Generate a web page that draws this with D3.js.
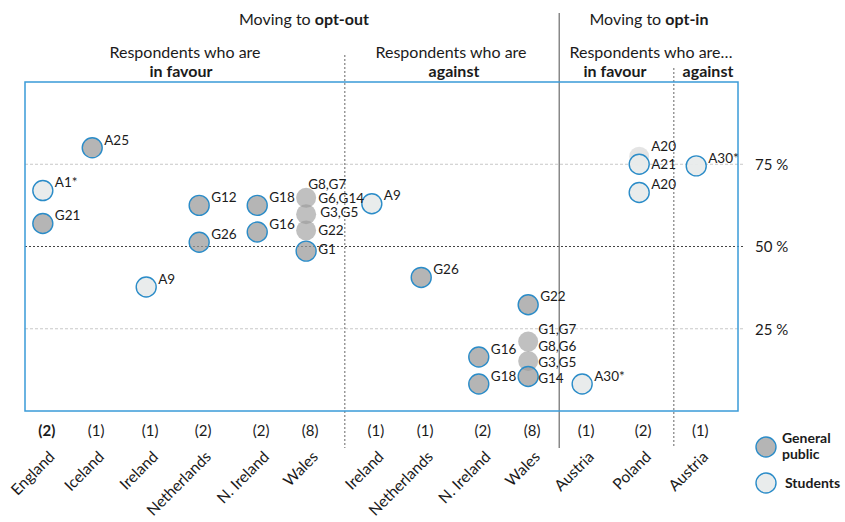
<!DOCTYPE html>
<html>
<head>
<meta charset="utf-8">
<script src="https://cdn.jsdelivr.net/npm/d3@7"></script>
<style>
  html, body { margin: 0; padding: 0; background: #fff; }
  svg { display: block; font-family: Lato, "Open Sans", sans-serif; }
</style>
</head>
<body>
<svg id="chart" width="845" height="522"></svg>
<script>
// ---------- DATA ----------
const categories = ["England","Iceland","Ireland","Netherlands","N. Ireland","Wales",
                    "Ireland","Netherlands","N. Ireland","Wales",
                    "Austria","Poland","Austria"];
const counts = ["(2)","(1)","(1)","(2)","(2)","(8)","(1)","(1)","(2)","(8)","(1)","(2)","(1)"];
// horizontal position of each category (scatter x value)
const categoryX = [0.35,1.32,2.38,3.42,4.56,5.52,6.81,7.78,8.91,9.88,10.94,12.06,13.18];
// group boundaries (x values)
const dividerX = [6.28, 10.49, 12.74];
const dividerKind = ["dotted","solid","dotted"];

// points
const pointCat   = [0,0,1,2,3,3,4,4,5,5,5,5,6,7,8,8,9,9,9,9,10,11,11,11,12];
const pointGroup = ["S","G","G","S","G","G","G","G","G","G","G","G","S","G","G","G","G","G","G","G","S","S","S","S","S"];
const pointValue = [67,57,80,37.7,62.5,51.3,62.5,54.4,64.8,59.8,54.9,48.6,63,40.6,16.4,8.2,32.3,21.1,15.2,10.5,8.2,77.3,75,66.4,74.5];
const pointLabel = ["A1*","G21","A25","A9","G12","G26","G18","G16",
                    "G8,G7\nG6,G14","G3,G5","G22","G1",
                    "A9","G26","G16","G18",
                    "G22","G1,G7\nG8,G6","G3,G5","G14",
                    "A30*","A20","A21","A20","A30*"];
// pooled markers (several respondents sharing a value, drawn without outline)
const pointPooled = [0,0,0,0,0,0,0,0,1,1,1,0,0,0,0,0,0,1,1,0,0,1,0,0,0];

const yTicks = [25, 50, 75];
const yTickLabels = ["25 %","50 %","75 %"];
const legendItems = [["General","public"],["Students"]];

// ---------- LAYOUT ----------
const svg = d3.select("#chart");
const L = 25, R = 738, T = 82, B = 411;
const x = d3.scaleLinear().domain([0,14]).range([L,R]);
const y = d3.scaleLinear().domain([0,100]).range([B,T]);
const blue = "#2b8cc8";
const textCol = "#1b1b1b";

// gridlines
const grid = svg.append("g");
yTicks.forEach(v => {
  grid.append("line")
    .attr("x1", L).attr("x2", R + 5)
    .attr("y1", y(v)).attr("y2", y(v))
    .attr("stroke", v === 50 ? "#444" : "#c8c8c8")
    .attr("stroke-width", 1)
    .attr("stroke-dasharray", v === 50 ? "2,2" : "3,2");
});

// right axis tick labels
const yAxis = d3.axisRight(y).tickValues(yTicks)
  .tickFormat((d,i) => yTickLabels[i]).tickSize(0).tickPadding(0);
const ya = svg.append("g").attr("transform", `translate(${R + 17},0)`).call(yAxis);
ya.select(".domain").remove();
ya.selectAll("text").attr("font-size", 15).attr("fill", textCol)
  .attr("font-family", "Lato, sans-serif").attr("dy", "0.35em");

// dividers
const divTop = [55, 13, 68];
dividerX.forEach((dv, i) => {
  svg.append("line")
    .attr("x1", x(dv)).attr("x2", x(dv))
    .attr("y1", divTop[i]).attr("y2", 448)
    .attr("stroke", dividerKind[i] === "solid" ? "#808080" : "#666")
    .attr("stroke-width", dividerKind[i] === "solid" ? 1.4 : 1)
    .attr("stroke-dasharray", dividerKind[i] === "solid" ? null : "2,2");
});

// plot frame
svg.append("rect").attr("x", L).attr("y", T).attr("width", R - L).attr("height", B - T)
  .attr("fill", "none").attr("stroke", "#3a9bd8").attr("stroke-width", 1.5);

// headers
function richText(g, cx, yy, parts, size) {
  const t = g.append("text").attr("x", cx).attr("y", yy)
    .attr("text-anchor", "middle").attr("font-size", size).attr("fill", textCol);
  parts.forEach(p => t.append("tspan").text(p[0]).attr("font-weight", p[1] ? "bold" : "normal"));
}
const hdr = svg.append("g");
const hs = 16;
richText(hdr, 304, 25, [["Moving to ",0],["opt-out",1]], hs);
richText(hdr, 649, 25, [["Moving to ",0],["opt-in",1]], hs);
richText(hdr, 185, 58, [["Respondents who are",0]], hs);
richText(hdr, 181, 77, [["in favour",1]], hs);
richText(hdr, 451, 58, [["Respondents who are",0]], hs);
richText(hdr, 454, 77, [["against",1]], hs);
richText(hdr, 651, 58, [["Respondents who are\u2026",0]], hs);
richText(hdr, 615, 77, [["in favour",1]], hs);
richText(hdr, 708, 77, [["against",1]], hs);

// count labels & category labels
const bottom = svg.append("g");
categories.forEach((c, i) => {
  const cx = x(categoryX[i]) + 4;
  bottom.append("text").attr("x", cx).attr("y", 436)
    .attr("text-anchor", "middle").attr("font-size", 15).attr("fill", textCol)
    .attr("font-weight", i === 0 ? "bold" : "normal")
    .text(counts[i]);
  bottom.append("text")
    .attr("transform", `translate(${cx + 5},${454}) rotate(-45)`)
    .attr("text-anchor", "end").attr("dy", "0.35em")
    .attr("font-size", 15.5).attr("fill", textCol)
    .text(c);
});

// points
const pts = pointCat.map((c, i) => ({
  cat: c, group: pointGroup[i], value: pointValue[i],
  label: pointLabel[i], pooled: pointPooled[i] === 1
}));
const ordered = pts.filter(d => d.pooled).concat(pts.filter(d => !d.pooled));
const marks = svg.append("g");
marks.selectAll("circle").data(ordered).join("circle")
  .attr("cx", d => x(categoryX[d.cat]))
  .attr("cy", d => y(d.value))
  .attr("r", 10)
  .attr("fill", d => d.group === "G" ? "#999999" : (d.pooled ? "#c4c4c4" : "#e8ebeb"))
  .attr("fill-opacity", d => d.group === "G" ? (d.pooled ? 0.62 : 0.72) : (d.pooled ? 0.45 : 0.95))
  .attr("stroke", d => d.pooled ? "none" : blue)
  .attr("stroke-width", 1.4);

// label nudges
const nudge = {
  "5|G8,G7": [2,-14], "5|G6,G14": [12,0], "5|G3,G5": [14,-2], "5|G22": [12,0], "5|G1": [12,-2],
  "9|G1,G7": [10,-12], "9|G8,G6": [10,4.5], "9|G3,G5": [10,1], "9|G14": [10,1.5],
  "11|A20": [12,-10], "11|A21": [12,0]
};
const labels = svg.append("g");
pts.forEach(d => {
  d.label.split("\n").forEach(t => {
    let n = nudge[d.cat + "|" + t] || [12,-8];
    if (d.cat === 11 && t === "A20" && !d.pooled) n = [12,-8];
    labels.append("text")
      .attr("x", x(categoryX[d.cat]) + n[0])
      .attr("y", y(d.value) + n[1])
      .attr("dy", "0.35em")
      .attr("font-size", 13.5).attr("fill", textCol)
      .text(t);
  });
});

// legend
const lg = svg.append("g");
const legY = [447, 483];
legendItems.forEach((lines, i) => {
  lg.append("circle").attr("cx", 766).attr("cy", legY[i]).attr("r", 10)
    .attr("fill", i === 0 ? "#999999" : "#e8ebeb")
    .attr("fill-opacity", i === 0 ? 0.72 : 0.95)
    .attr("stroke", blue).attr("stroke-width", 1.4);
  lines.forEach((ln, j) => {
    lg.append("text")
      .attr("x", i === 0 ? 782 : 785)
      .attr("y", legY[i] + (lines.length === 1 ? 0 : (j === 0 ? -9 : 7)))
      .attr("dy", "0.35em")
      .attr("font-size", 14).attr("font-weight", "bold").attr("fill", textCol)
      .text(ln);
  });
});
</script>
</body>
</html>
